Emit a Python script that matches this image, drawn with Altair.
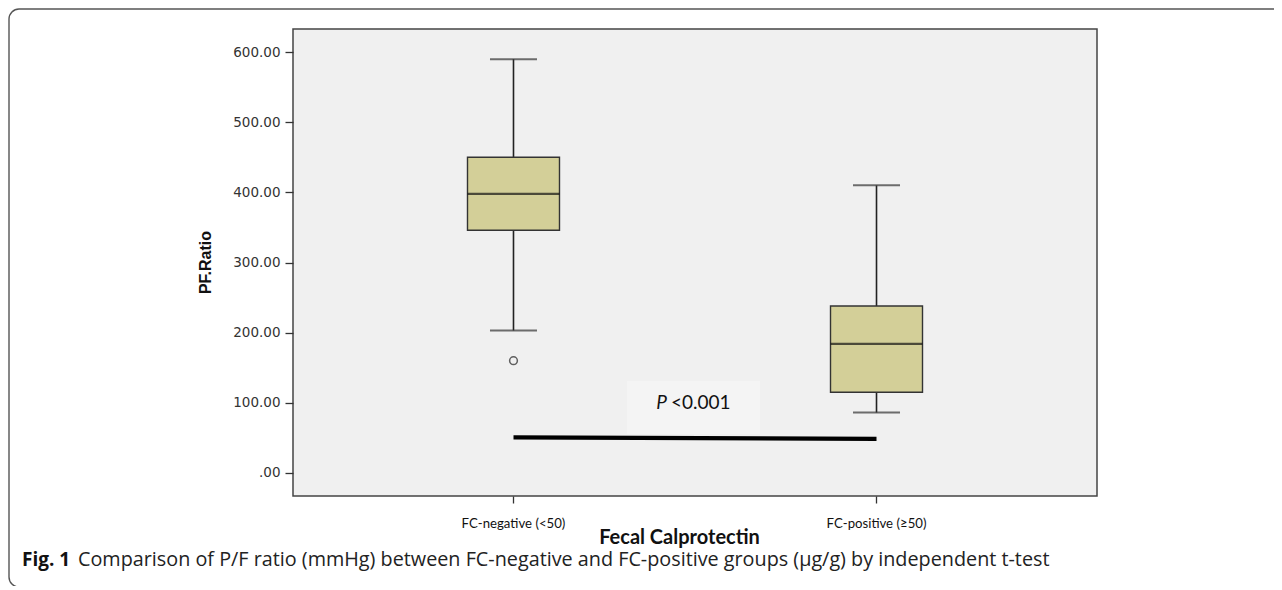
import altair as alt
import pandas as pd

# ---- data ----
groups = ["FC-negative (<50)", "FC-positive (≥50)"]
lower_whisker = [203, 86]
q1 = [346, 115]
median = [398, 184]
q3 = [450, 238]
upper_whisker = [590, 410]

outlier_groups = ["FC-negative (<50)"]
outlier_values = [160]

sig_groups = ["FC-negative (<50)", "FC-positive (≥50)"]
sig_values = [50.5, 48.5]
p_value_y = [100]

y_ticks = [0, 100, 200, 300, 400, 500, 600]

caption_bold = "Fig. 1"
caption_text = "Comparison of P/F ratio (mmHg) between FC-negative and FC-positive groups (µg/g) by independent t-test"

box_df = pd.DataFrame({"group": groups, "lo": lower_whisker, "q1": q1,
                       "med": median, "q3": q3, "hi": upper_whisker})
out_df = pd.DataFrame({"group": outlier_groups, "v": outlier_values})
sig_df = pd.DataFrame({"group": sig_groups, "v": sig_values})
p_df = pd.DataFrame({"v": p_value_y})

W, H = 804, 467

xscale = alt.Scale(type="band", domain=groups, paddingInner=0, paddingOuter=0.1074)
yscale = alt.Scale(domain=[-33, 633], nice=False, zero=False)

X = alt.X("group:N", scale=xscale, sort=groups,
          axis=alt.Axis(title="Fecal Calprotectin", labelAngle=0,
                        labelAlign="center", labelBaseline="top",
                        labelFont="Lato", labelFontSize=13.2, labelColor="#111",
                        labelPadding=14, tickSize=7, tickColor="#333", tickWidth=1.3,
                        domain=False, grid=False,
                        titleFont="Lato", titleFontWeight="bold", titleFontSize=20,
                        titleColor="#111", titleX=386, titleY=41,
                        titleBaseline="middle", titleAlign="center"))
Y = alt.Y("lo:Q", scale=yscale,
          axis=alt.Axis(title="PF.Ratio", values=y_ticks,
                        labelExpr="datum.value == 0 ? '.00' : format(datum.value, '.2f')",
                        labelFont="DejaVu Sans", labelFontSize=13.5, labelColor="#333",
                        labelPadding=5, tickSize=8, tickColor="#333", tickWidth=1.3,
                        domain=False, grid=False,
                        titleFont="Liberation Sans", titleFontWeight="bold",
                        titleFontSize=16, titleColor="#111",
                        titleX=-88, titleY=233, titleAngle=270,
                        titleBaseline="middle", titleAlign="center"))

base = alt.Chart(box_df)

whisk_lo = base.mark_rule(color="#222", strokeWidth=1.6).encode(
    x=X, y=Y, y2="q1:Q")
whisk_hi = base.mark_rule(color="#222", strokeWidth=1.6).encode(
    x=alt.X("group:N", scale=xscale, sort=groups),
    y=alt.Y("q3:Q", scale=yscale), y2="hi:Q")
cap_lo = base.mark_tick(color="#333", size=47, thickness=2).encode(
    x=alt.X("group:N", scale=xscale, sort=groups),
    y=alt.Y("lo:Q", scale=yscale))
cap_hi = base.mark_tick(color="#333", size=47, thickness=2).encode(
    x=alt.X("group:N", scale=xscale, sort=groups),
    y=alt.Y("hi:Q", scale=yscale))
box = base.mark_bar(fill="#d3cf98", stroke="#333", strokeWidth=1.4, size=92).encode(
    x=alt.X("group:N", scale=xscale, sort=groups),
    y=alt.Y("q1:Q", scale=yscale), y2="q3:Q")
med = base.mark_tick(color="#111", size=92, thickness=2.2).encode(
    x=alt.X("group:N", scale=xscale, sort=groups),
    y=alt.Y("med:Q", scale=yscale))

outl = alt.Chart(out_df).mark_point(shape="circle", filled=False, color="#222",
                                    strokeWidth=1.5, size=60).encode(
    x=alt.X("group:N", scale=xscale, sort=groups),
    y=alt.Y("v:Q", scale=yscale))

sig = alt.Chart(sig_df).mark_line(color="#000", strokeWidth=4.2, strokeCap="butt").encode(
    x=alt.X("group:N", scale=xscale, sort=groups),
    y=alt.Y("v:Q", scale=yscale))

p_bg = alt.Chart(p_df).mark_rect(fill="#f4f4f4").encode(
    x=alt.value(334), x2=alt.value(467), y=alt.value(352), y2=alt.value(405))
p_italic = alt.Chart(p_df).mark_text(text="P", font="Lato", fontStyle="italic",
                                     fontSize=19, align="right", baseline="middle",
                                     color="#111").encode(
    x=alt.value(374), y=alt.Y("v:Q", scale=yscale))
p_rest = alt.Chart(p_df).mark_text(text="<0.001", font="Lato", fontSize=19,
                                   align="left", baseline="middle",
                                   color="#111").encode(
    x=alt.value(378), y=alt.Y("v:Q", scale=yscale))

frame = alt.Chart(p_df).mark_rect(fill=None, stroke="#555", strokeWidth=1.4,
                                  cornerRadius=10).encode(
    x=alt.value(-284), x2=alt.value(1100), y=alt.value(-20), y2=alt.value(558))
cap1 = alt.Chart(p_df).mark_text(text=caption_bold, font="Open Sans", fontWeight="bold",
                                 fontSize=19, align="left", baseline="middle",
                                 color="#111").encode(
    x=alt.value(-271), y=alt.value(531))
cap2 = alt.Chart(p_df).mark_text(text=caption_text, font="Open Sans", fontSize=19.8,
                                 align="left", baseline="middle",
                                 color="#222").encode(
    x=alt.value(-215), y=alt.value(531))

chart = alt.layer(
    frame, p_bg, p_italic, p_rest, sig,
    whisk_lo, whisk_hi, cap_lo, cap_hi, box, med, outl, cap1, cap2
).properties(
    width=W, height=H,
    autosize=alt.AutoSizeParams(type="none"),
    padding={"left": 285, "top": 21, "right": 177, "bottom": 90},
    background="white",
).configure_view(
    fill="#f0f0f0", stroke="#444", strokeWidth=1.5
)

chart.save("out.html", embed_options={"renderer": "svg", "actions": False})
